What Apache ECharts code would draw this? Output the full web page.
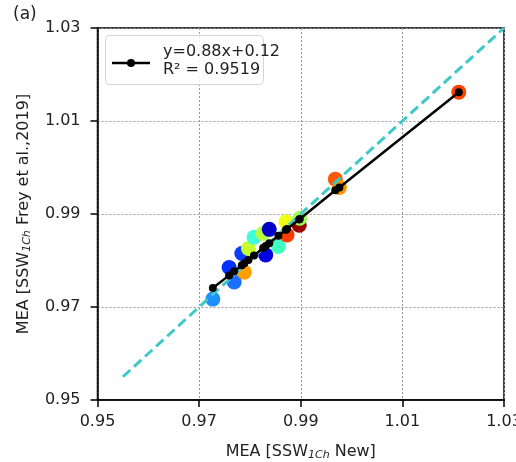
<!DOCTYPE html>
<html>
<head>
<meta charset="utf-8">
<script src="https://cdn.jsdelivr.net/npm/echarts@6/dist/echarts.min.js"></script>
<style>html,body{margin:0;padding:0;background:#fff}#c{width:516px;height:462px}</style>
</head>
<body>
<div id="c"></div>
<script>
// Data
var pointX = [0.9727, 0.9769, 0.9789, 0.9759, 0.9784, 0.9797, 0.9808, 0.9831, 0.9826, 0.9838, 0.9856, 0.9871, 0.9873, 0.9897, 0.9898, 0.9968, 0.9976, 1.0211];
var pointY = [0.9717, 0.9754, 0.9775, 0.9785, 0.9815, 0.9826, 0.9850, 0.9812, 0.9858, 0.9867, 0.9830, 0.9883, 0.9855, 0.9876, 0.9891, 0.9975, 0.9957, 1.0162];
var pointColors = ['#1e8fff', '#1d70ff', '#ffa000', '#0030ff', '#0a3cff', '#c6ff30', '#40ffd8', '#0000e0', '#b8ff40', '#0000c8', '#40ffc0', '#eeff10', '#ff3c00', '#9a0000', '#a0ff56', '#ff5a00', '#ff9000', '#ff4400'];
var fitX = [0.9727, 0.9759, 0.9769, 0.9784, 0.9789, 0.9797, 0.9808, 0.9826, 0.9831, 0.9838, 0.9856, 0.9871, 0.9873, 0.9897, 0.9898, 0.9968, 0.9976, 1.0211];
var fitY = [0.9741, 0.9768, 0.9777, 0.9790, 0.9794, 0.9801, 0.9811, 0.9827, 0.9831, 0.9837, 0.9853, 0.9866, 0.9868, 0.9888, 0.9889, 0.9951, 0.9957, 1.0162];
var oneToOneX = [0.955, 1.03];
var oneToOneY = [0.955, 1.03];
var tickValues = [0.95, 0.97, 0.99, 1.01, 1.03];
var legendLine1 = 'y=0.88x+0.12';
var legendLine2 = 'R² = 0.9519';

var FONT = 'DejaVu Sans';
var chart = echarts.init(document.getElementById('c'), null, {renderer: 'canvas'});

var scatterData = pointX.map(function (x, i) {
  return {value: [x, pointY[i]], itemStyle: {color: pointColors[i]}};
});
var fitData = fitX.map(function (x, i) { return [x, fitY[i]]; });
var diagData = oneToOneX.map(function (x, i) { return [x, oneToOneY[i]]; });

function axisCommon() {
  return {
    type: 'value',
    min: tickValues[0],
    max: tickValues[tickValues.length - 1],
    interval: 0.02,
    axisLine: {show: true, onZero: false, lineStyle: {color: '#000', width: 1.5}},
    axisTick: {show: true, length: 7, lineStyle: {color: '#000', width: 1.5}},
    splitLine: {show: true, lineStyle: {color: '#999', width: 1, type: [2, 2]}},
    axisLabel: {
      color: '#222', fontFamily: FONT, fontSize: 16,
      formatter: function (v) { return v.toFixed(2); }
    },
    nameTextStyle: {
      color: '#222', fontFamily: FONT, fontSize: 16,
      rich: {
        t: {fontFamily: FONT, fontSize: 16, color: '#222'},
        s: {fontFamily: FONT, fontSize: 11, fontStyle: 'italic', color: '#222', padding: [7, 0, 0, 0]}
      }
    }
  };
}

var xA = axisCommon();
xA.axisLabel.margin = 14;
xA.name = '{t|MEA [SSW}{s|1Ch}{t| New]}';
xA.nameLocation = 'middle';
xA.nameGap = 43;

var yA = axisCommon();
yA.axisLabel.margin = 17;
yA.name = '{t|MEA [SSW}{s|1Ch}{t| Frey et al.,2019]}';
yA.nameLocation = 'middle';
yA.nameGap = 65;

chart.setOption({
  animation: false,
  backgroundColor: '#fff',
  grid: {left: 97.5, right: 12, top: 28, bottom: 62, containLabel: false, outerBoundsMode: 'none', show: true, borderColor: '#000', borderWidth: 1.5, backgroundColor: 'transparent'},
  xAxis: xA,
  yAxis: yA,
  series: [
    {
      type: 'scatter', data: scatterData, symbolSize: 15, z: 2,
      itemStyle: {opacity: 1}
    },
    {
      type: 'line', data: diagData, symbol: 'none', z: 3,
      lineStyle: {color: '#3ec9c9', width: 3, type: [10, 5]}
    },
    {
      type: 'line', data: fitData, symbol: 'circle', symbolSize: 8, z: 4,
      itemStyle: {color: '#000'}, lineStyle: {color: '#000', width: 2.5}
    }
  ],
  graphic: [
    {type: 'text', left: 13, top: 6, style: {text: '(a)', font: '17px "DejaVu Sans"', fill: '#222'}},
    {type: 'rect', shape: {x: 105.5, y: 35.5, width: 158, height: 49, r: 4}, style: {fill: 'rgba(255,255,255,0.85)', stroke: '#d5d5d5', lineWidth: 1}, z: 100},
    {type: 'line', shape: {x1: 112, y1: 63, x2: 150, y2: 63}, style: {stroke: '#000', lineWidth: 2.5}, z: 101},
    {type: 'circle', shape: {cx: 131, cy: 63, r: 4}, style: {fill: '#000'}, z: 101},
    {type: 'text', x: 163, y: 52, style: {text: legendLine1, font: '16px "DejaVu Sans"', fill: '#222', textVerticalAlign: 'middle'}, z: 101},
    {type: 'text', x: 163, y: 70, style: {text: legendLine2, font: '16px "DejaVu Sans"', fill: '#222', textVerticalAlign: 'middle'}, z: 101}
  ]
});
</script>
</body>
</html>
